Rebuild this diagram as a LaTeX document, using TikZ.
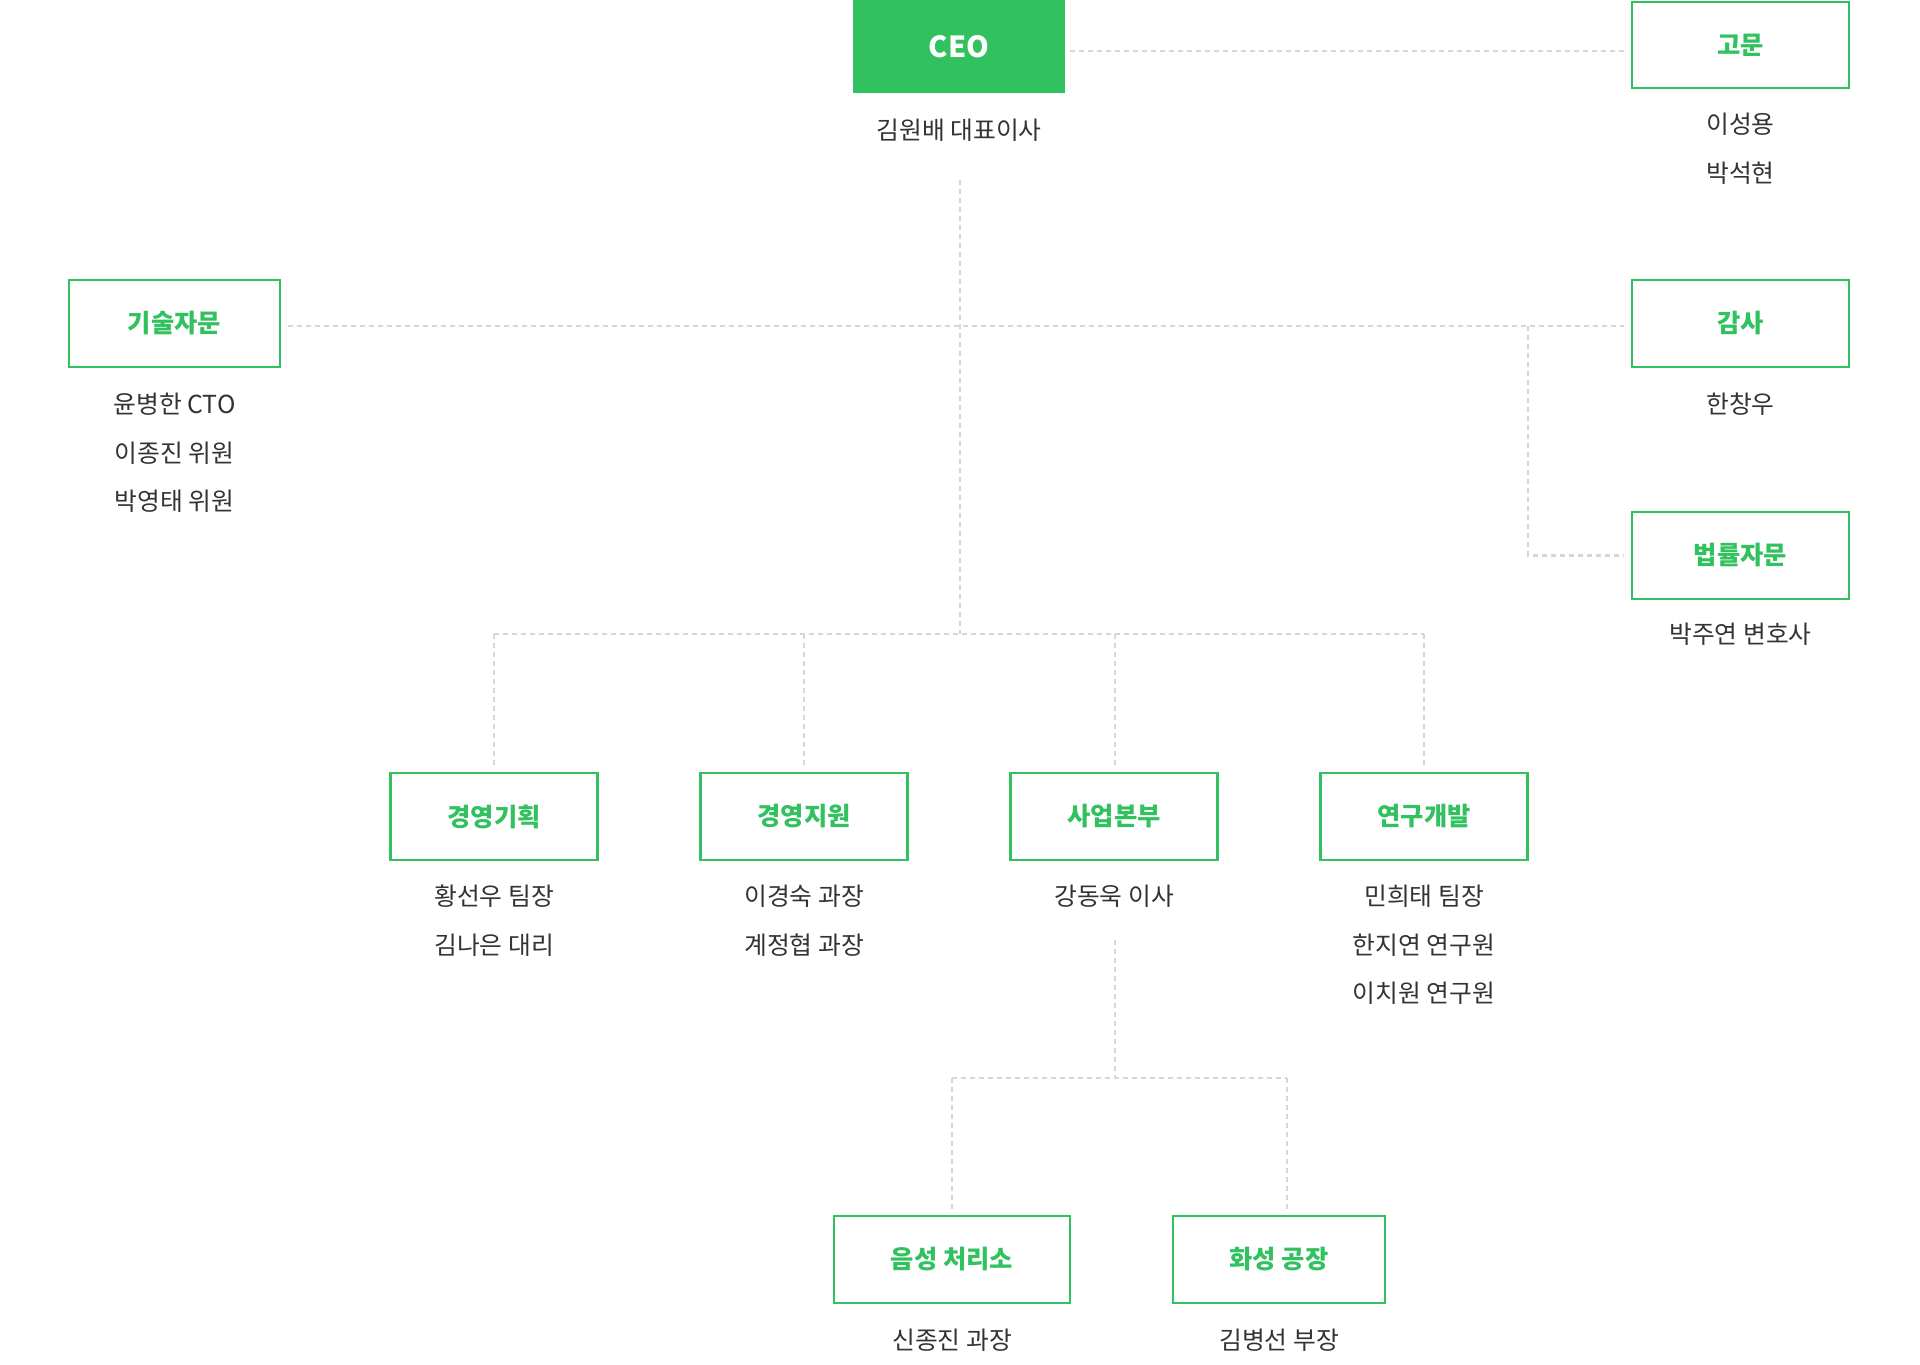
\documentclass[tikz,border=0pt]{standalone}
\usepackage{fontspec}
\setmainfont{Noto Sans CJK KR}
\definecolor{brand}{HTML}{31C15E}
\definecolor{txt}{HTML}{333333}
\definecolor{lineg}{HTML}{D6D6D6}
\begin{document}
\begin{tikzpicture}[x=1pt,y=-1pt,
  box/.style={draw=brand, line width=2.6pt, fill=white, minimum height=87pt, inner sep=0pt,
    text=brand, font=\fontsize{25.3}{30}\selectfont\bfseries},
  ceobox/.style={fill=brand, minimum height=93pt, minimum width=212pt, inner sep=0pt,
    text=white, font=\fontsize{29}{33}\selectfont\bfseries},
  who/.style={text=txt, align=center, inner sep=0pt, font=\fontsize{24.8}{48.5}\selectfont},
  conn/.style={draw=lineg, line width=2.8pt, dash pattern=on 5pt off 4pt}]
\useasboundingbox (0,0) rectangle (1920,1365);

% top row
\node[ceobox] (ceo) at (959,46.5) {CEO};
\node[who, anchor=center] (ceoname) at (959,130) {김원배 대표이사};
\node[box, minimum width=217pt, minimum height=86pt] (gomun) at (1740.5,45) {고문};
\node[who, anchor=north] (gomunname) at (1740.5,113) {이성용\\박석현};

% middle row
\node[box, minimum width=211pt] (gisul) at (174.5,323.5) {기술자문};
\node[who, anchor=north] (gisulname) at (174.5,393) {윤병한 CTO\\이종진 위원\\박영태 위원};
\node[box, minimum width=217pt] (gamsa) at (1740.5,323.5) {감사};
\node[who, anchor=north] (gamsaname) at (1740.5,393) {한창우};
\node[box, minimum width=217pt] (beop) at (1740.5,555.5) {법률자문};
\node[who, anchor=north] (beopname) at (1740.5,623) {박주연 변호사};

% department row
\node[box, minimum width=207pt] (b1) at (494,816.5) {경영기획};
\node[box, minimum width=207pt] (b2) at (804,816.5) {경영지원};
\node[box, minimum width=207pt] (b3) at (1114,816.5) {사업본부};
\node[box, minimum width=207pt] (b4) at (1424,816.5) {연구개발};
\node[who, anchor=north] (n1) at (494,885) {황선우 팀장\\김나은 대리};
\node[who, anchor=north] (n2) at (804,885) {이경숙 과장\\계정협 과장};
\node[who, anchor=north] (n3) at (1114,885) {강동욱 이사};
\node[who, anchor=north] (n4) at (1424,885) {민희태 팀장\\한지연 연구원\\이치원 연구원};

% sub row
\node[box, minimum width=236pt] (s1) at (952,1259.5) {음성 처리소};
\node[box, minimum width=212pt] (s2) at (1279,1259.5) {화성 공장};
\node[who, anchor=north] (sn1) at (952,1329) {신종진 과장};
\node[who, anchor=north] (sn2) at (1279,1329) {김병선 부장};

% junction coordinates
\coordinate (jt) at (960,180);
\coordinate (jm) at (960,326);
\coordinate (jb) at (960,634);
\coordinate (rj) at (1528,326);
\coordinate (hl) at (494,634);
\coordinate (hr) at (1424,634);
\coordinate (st) at (1115,940);
\coordinate (sm) at (1115,1078);
\coordinate (sl) at (952,1078);
\coordinate (sr) at (1287,1078);

% connectors
\draw[conn, shorten <=5pt, shorten >=7pt] (ceo.east |- 0,51) -- (gomun.west |- 0,51);
\draw[conn] (jt) -- (jb);
\draw[conn, shorten <=7pt, shorten >=7pt] (gisul.east |- jm) -- (gamsa.west |- jm);
\draw[conn, shorten >=7pt] (rj) |- (beop.west);
\draw[conn] (hl) -- (hr);
\draw[conn, shorten >=4pt] (hl) -- (b1.north);
\draw[conn, shorten >=4pt] (b2.north |- hl) -- (b2.north);
\draw[conn, shorten >=4pt] (b3.north |- hl) ++(1,0) -- ([xshift=1pt]b3.north);
\draw[conn, shorten >=4pt] (hr) -- (b4.north);
\draw[conn] (st) -- (sm);
\draw[conn] (sl) -- (sr);
\draw[conn, shorten >=4pt] (sl) -- (s1.north);
\draw[conn, shorten >=4pt] (sr) -- (sr |- s2.north);
\end{tikzpicture}
\end{document}
